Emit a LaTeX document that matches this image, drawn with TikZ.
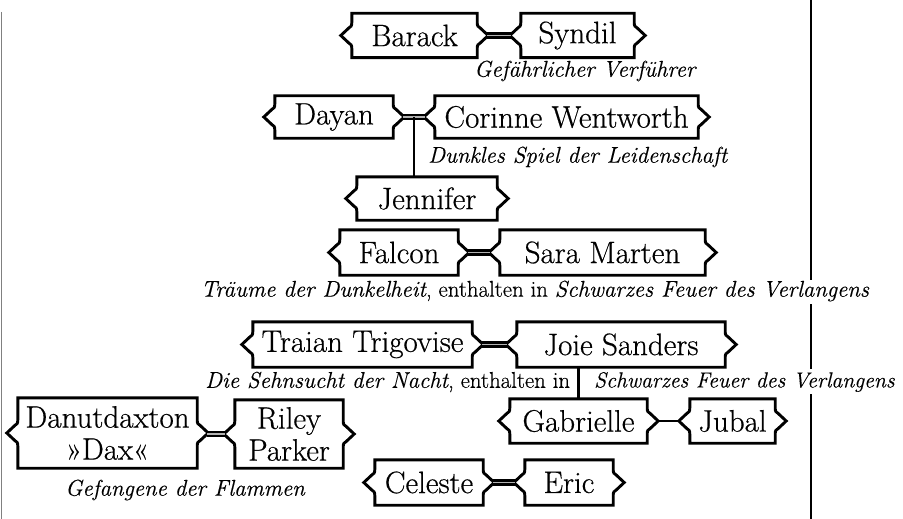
\documentclass[tikz,border=0pt]{standalone}
\usepackage{fontspec}
\usetikzlibrary{calc}
\newfontfamily\famrm{Latin Modern Roman}[FakeBold=0.5]
\newfontfamily\caprm{Latin Modern Roman}[FakeBold=0.4]
\newcommand\famfont{\famrm\fontsize{31}{32}\selectfont}
\newcommand\capfont{\caprm\fontsize{22.8}{25}\selectfont}
\newcommand\ital[1]{{\itshape #1}}
\tikzset{
  fam/.style={rectangle, inner sep=0pt, font=\famfont, align=center, minimum height=44},
  captxt/.style={inner sep=0pt, font=\capfont},
  boxline/.style={line width=2.9pt, line join=miter, black},
  marr/.style={line width=2.4pt, double=gray!60, double distance=1.6pt, shorten <=10pt, shorten >=10pt},
  singlelink/.style={line width=2.8pt, shorten <=10pt, shorten >=10pt},
  kidline/.style={line width=2.8pt},
  borderline/.style={line width=2.8pt}
}
\newcommand\famshape[1]{%
  \draw[boxline] (#1.north west) -- (#1.north east)
    -- ($(#1.east)+(0,-13)$) .. controls ($(#1.east)+(0,-9.5)$) and ($(#1.east)+(1,-8.5)$) .. ($(#1.east)+(3,-7.5)$)
    -- ($(#1.east)+(11,0)$)
    -- ($(#1.east)+(3,7.5)$) .. controls ($(#1.east)+(1,8.5)$) and ($(#1.east)+(0,9.5)$) .. ($(#1.east)+(0,13)$)
    -- (#1.south east) -- (#1.south west)
    -- ($(#1.west)+(0,13)$) .. controls ($(#1.west)+(0,9.5)$) and ($(#1.west)+(-1,8.5)$) .. ($(#1.west)+(-3,7.5)$)
    -- ($(#1.west)+(-11,0)$)
    -- ($(#1.west)+(-3,-7.5)$) .. controls ($(#1.west)+(-1,-8.5)$) and ($(#1.west)+(0,-9.5)$) .. ($(#1.west)+(0,-13)$)
    -- cycle;}
\begin{document}
\begin{tikzpicture}[x=1pt,y=-1pt]
\useasboundingbox (0,0) rectangle (903,519);
% frame lines
\draw[gray, line width=1.5pt] (1.5,12) -- (1.5,519);
\draw[borderline] (811,0) -- (811,280);
\draw[borderline] (811,304) -- (811,369);
\draw[borderline] (811,394) -- (811,519);
% nodes
\node[fam, minimum width=125] (barack) at (414.5,35.5) {Barack};
\node[fam, minimum width=113] (syndil) at (577.5,35.5) {Syndil};
\node[fam, minimum width=118, minimum height=42] (dayan) at (334,117) {Dayan};
\node[fam, minimum width=263, minimum height=42] (corinne) at (566.5,117) {Corinne Wentworth};
\node[fam, minimum width=140, minimum height=43] (jennifer) at (427,198.5) {Jennifer};
\node[fam, minimum width=118, minimum height=45] (falcon) at (399,252.5) {Falcon};
\node[fam, minimum width=205, minimum height=45] (sara) at (602.5,252.5) {Sara Marten};
\node[fam, minimum width=219, minimum height=45] (traian) at (362.5,344.5) {Traian Trigovise};
\node[fam, minimum width=208, minimum height=45] (joie) at (621,344.5) {Joie Sanders};
\node[fam, minimum width=137] (gabrielle) at (578.5,421) {Gabrielle};
\node[fam, minimum width=85] (jubal) at (732.5,421) {Jubal};
\node[fam, minimum width=179, minimum height=70] (danut) at (107.5,433) {Danutdaxton\\»Dax«};
\node[fam, minimum width=108, minimum height=68] (riley) at (289,434) {Riley\\Parker};
\node[fam, minimum width=108, minimum height=45] (celeste) at (429,482.5) {Celeste};
\node[fam, minimum width=88, minimum height=45] (eric) at (569,482.5) {Eric};
\foreach \n in {barack,syndil,dayan,corinne,jennifer,falcon,sara,traian,joie,gabrielle,jubal,danut,riley,celeste,eric}{\famshape{\n}}
% connectors
\draw[marr] (barack.east) -- (syndil.west);
\draw[marr] (dayan.east) -- (corinne.west);
\draw[marr] (falcon.east) -- (sara.west);
\draw[marr] (traian.east) -- (joie.west);
\draw[marr] (danut.east |- riley.west) -- (riley.west);
\draw[marr] (celeste.east) -- (eric.west);
\draw[singlelink] (gabrielle.east) -- (jubal.west);
\coordinate (dc) at ($(dayan.east)!0.5!(corinne.west)$);
\draw[kidline] (dc) -- (dc |- jennifer.north);
\draw[kidline] (gabrielle.north |- joie.south) -- (gabrielle.north);
% captions
\node[captxt, anchor=west] (c1) at (474,71) {\ital{Gefährlicher Verführer}};
\node[captxt, anchor=west] (c2) at (428,157) {\ital{Dunkles Spiel der Leidenschaft}};
\node[captxt] (c3) at (535,291) {\ital{Träume der Dunkelheit}, enthalten in \ital{Schwarzes Feuer des Verlangens}};
\node[captxt, anchor=west] (c4) at (205,382) {\ital{Die Sehnsucht der Nacht}, enthalten in};
\node[captxt, anchor=west, font=\caprm\fontsize{21.8}{24}\selectfont] (c5) at (594,382) {\ital{Schwarzes Feuer des Verlangens}};
\node[captxt] (c6) at (185,490) {\ital{Gefangene der Flammen}};
\end{tikzpicture}
\end{document}
